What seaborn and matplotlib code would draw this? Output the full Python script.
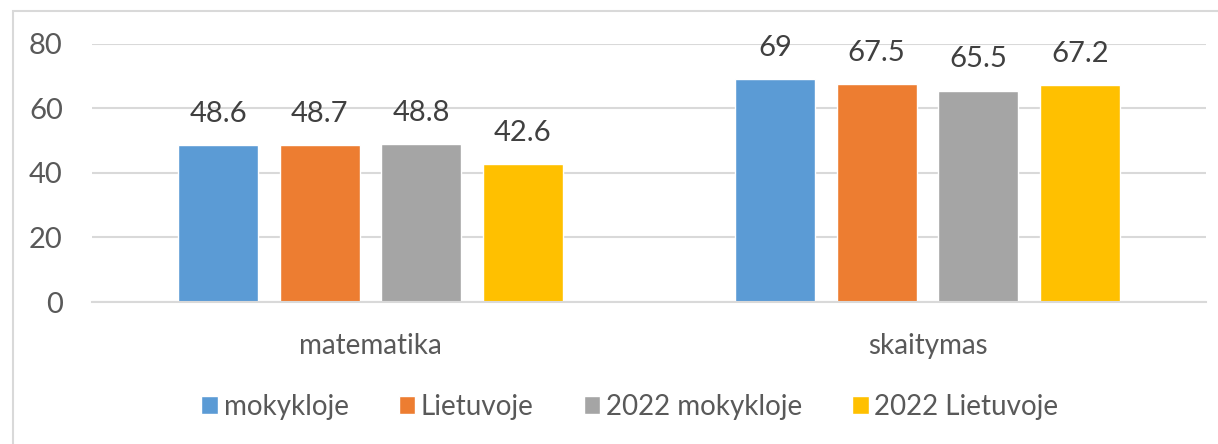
import matplotlib
matplotlib.use("Agg")
import matplotlib.pyplot as plt
import seaborn as sns
import pandas as pd
from matplotlib.patches import Rectangle

categories = ["matematika", "skaitymas"]
series = ["mokykloje", "Lietuvoje", "2022 mokykloje", "2022 Lietuvoje"]
vals_mokykloje = [48.6, 69]
vals_lietuvoje = [48.7, 67.5]
vals_2022_mokykloje = [48.8, 65.5]
vals_2022_lietuvoje = [42.6, 67.2]
colors = ["#5B9BD5", "#ED7D31", "#A5A5A5", "#FFC000"]
yticks = [0, 20, 40, 60, 80]

rows = []
for s, vals in zip(series, [vals_mokykloje, vals_lietuvoje, vals_2022_mokykloje, vals_2022_lietuvoje]):
    for c, v in zip(categories, vals):
        rows.append({"cat": c, "series": s, "value": v})
df = pd.DataFrame(rows)

sns.set_style("white")
plt.rcParams["font.family"] = ["Lato", "DejaVu Sans"]

W, H = 1218, 444
fig = plt.figure(figsize=(W / 100, H / 100), dpi=100)
ax = fig.add_axes([92 / W, 1 - 302 / H, (1206 - 92) / W, (302 - 43.7) / H])

sns.barplot(data=df, x="cat", y="value", hue="series", hue_order=series, order=categories,
            palette=colors, width=0.73, gap=0.21, ax=ax, legend=True, saturation=1)

ax.set_ylim(0, 80)
ax.set_xlim(-0.5, 1.5)
ax.set_yticks(yticks)
ax.yaxis.grid(True, color="#d9d9d9", linewidth=1.5)
ax.set_axisbelow(True)
for sp in ["left", "right", "top"]:
    ax.spines[sp].set_visible(False)
ax.spines["bottom"].set_color("#d9d9d9")
ax.spines["bottom"].set_linewidth(1.5)
ax.tick_params(axis="y", length=0, pad=21, labelsize=21, labelcolor="#595959")
ax.tick_params(axis="x", length=0, pad=22, labelsize=20, labelcolor="#595959")
ax.set_xlabel("")
ax.set_ylabel("")

for cont in ax.containers:
    ax.bar_label(cont, labels=[f"{v:g}" for v in cont.datavalues], padding=13,
                 fontsize=21, color="#404040")

handles, labels = ax.get_legend_handles_labels()
ax.get_legend().remove()
fig.legend(handles, labels, loc="center", bbox_to_anchor=(630 / W, 1 - 407 / H), ncol=4,
           frameon=False, fontsize=20, labelcolor="#595959", handlelength=0.6, handleheight=0.6,
           handletextpad=0.2, columnspacing=1.8)

fig.patches.append(Rectangle((13 / W, -0.1), 1.2, 1 - 11 / H + 0.1, transform=fig.transFigure,
                             fill=False, edgecolor="#d9d9d9", linewidth=1.5, zorder=0))

fig.savefig("out.png", dpi=100)
